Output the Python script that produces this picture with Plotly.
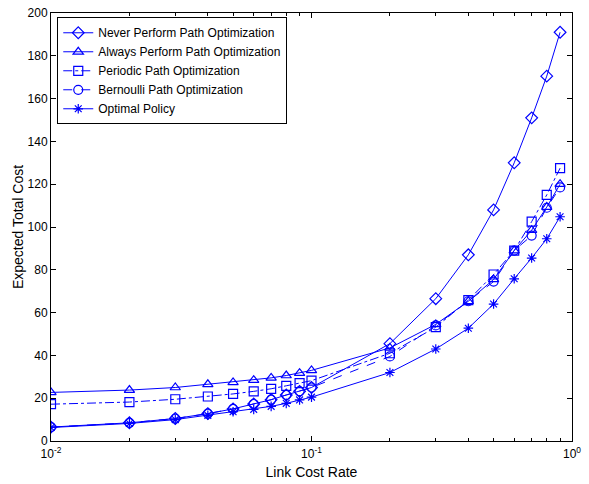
import plotly.graph_objects as go

x_rate = [0.01, 0.02, 0.03, 0.04, 0.05, 0.06, 0.07, 0.08, 0.09, 0.1,
          0.2, 0.3, 0.4, 0.5, 0.6, 0.7, 0.8, 0.9]

never_cost = [6.5, 8.5, 10.5, 12.8, 15.0, 17.3, 19.3, 21.5, 23.2, 25.0,
              45.5, 66.5, 87.0, 108.0, 130.0, 151.0, 170.5, 191.0]
always_cost = [22.7, 23.8, 25.0, 26.5, 27.4, 28.4, 29.5, 30.6, 31.7, 33.0,
               43.5, 54.5, 65.3, 75.5, 89.0, 98.5, 109.3, 120.0]
periodic_cost = [17.2, 18.2, 19.5, 20.8, 22.0, 23.2, 24.4, 25.8, 27.0, 28.2,
                 41.0, 53.2, 65.8, 77.8, 89.0, 102.5, 115.0, 127.5]
bernoulli_cost = [6.5, 8.5, 10.5, 12.8, 15.0, 17.3, 19.3, 21.5, 23.2, 25.0,
                  39.5, 54.0, 65.3, 74.5, 89.0, 96.0, 109.0, 118.5]
optimal_cost = [6.3, 8.2, 10.0, 12.0, 13.7, 14.8, 16.2, 17.6, 19.2, 20.5,
                32.0, 43.0, 52.7, 64.0, 75.8, 85.5, 94.5, 104.8]

series = [
    ("Never Perform Path Optimization", never_cost, "diamond-open", "solid", 9),
    ("Always Perform Path Optimization", always_cost, "triangle-up-open", "solid", 9),
    ("Periodic Path Optimization", periodic_cost, "square-open", "dashdot", 9),
    ("Bernoulli Path Optimization", bernoulli_cost, "circle-open", "dash", 9),
    ("Optimal Policy", optimal_cost, "asterisk-open", "solid", 8),
]

blue = "rgb(0,0,255)"
fig = go.Figure()
for name, vals, sym, dash, msize in series:
    fig.add_trace(go.Scatter(
        x=x_rate, y=vals, name=name, mode="lines+markers",
        line=dict(color=blue, width=1, dash=dash),
        marker=dict(symbol=sym, size=msize, color=blue, line=dict(color=blue, width=1.2)),
    ))

font_family = "Liberation Sans, Arial, sans-serif"
fig.update_layout(
    width=589, height=484,
    margin=dict(l=51, r=17, t=13, b=43, autoexpand=False),
    paper_bgcolor="white", plot_bgcolor="white",
    font=dict(family=font_family, size=12, color="black"),
    showlegend=True,
    legend=dict(
        x=0.012, y=0.99, xanchor="left", yanchor="top",
        bgcolor="white", bordercolor="black", borderwidth=1,
        font=dict(family=font_family, size=12, color="black"),
        tracegroupgap=0, itemwidth=30,
    ),
)
fig.update_xaxes(
    type="log", range=[-2, 0], automargin=False,
    tickvals=[0.01, 0.1, 1], ticktext=["10<sup>-2</sup>", "10<sup>-1</sup>", "10<sup>0</sup>"],
    ticks="inside", ticklen=5, tickcolor="black",
    ticklabelstandoff=2,
    minor=dict(tickvals=[0.02, 0.03, 0.04, 0.05, 0.06, 0.07, 0.08, 0.09,
                         0.2, 0.3, 0.4, 0.5, 0.6, 0.7, 0.8, 0.9],
               ticks="inside", ticklen=3, tickcolor="black", showgrid=False),
    showline=True, linecolor="black", linewidth=1, mirror="ticks",
    showgrid=False, zeroline=False,
    tickfont=dict(size=12),
    title=dict(text="Link Cost Rate", font=dict(size=14), standoff=6),
)
fig.update_yaxes(
    range=[0, 200], tickvals=list(range(0, 201, 20)), automargin=False,
    ticks="inside", ticklen=5, tickcolor="black",
    showline=True, linecolor="black", linewidth=1, mirror="ticks",
    showgrid=False, zeroline=False,
    tickfont=dict(size=12),
    title=dict(text="Expected Total Cost", font=dict(size=14), standoff=0),
)
fig.write_html("out.html")
